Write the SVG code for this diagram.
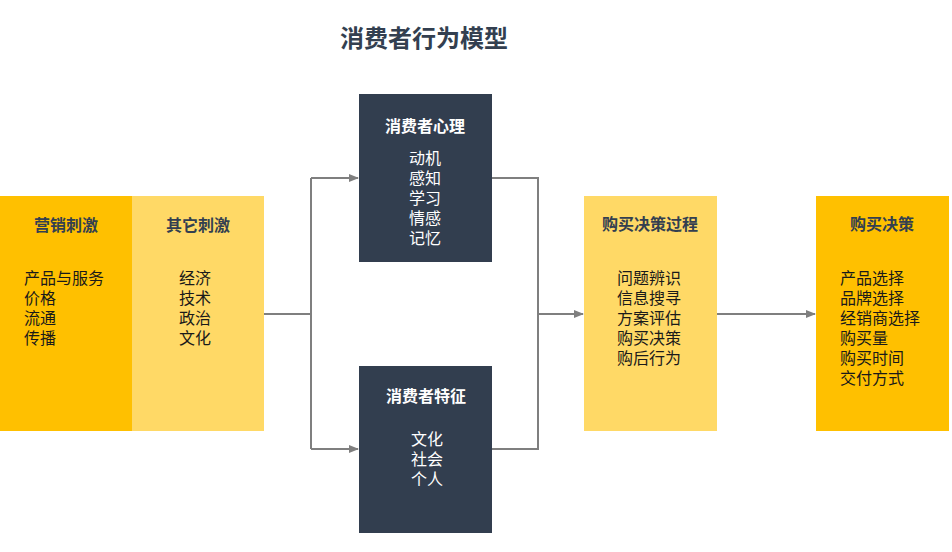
<svg xmlns="http://www.w3.org/2000/svg" width="952" height="552" viewBox="0 0 952 552">
<style>
text{font-family:"Noto Sans CJK SC","Liberation Sans",sans-serif;dominant-baseline:central}
.title{font-size:24px;font-weight:bold;fill:#333F50;text-anchor:middle}
.h{font-size:16px;font-weight:bold;fill:#333F50;text-anchor:middle}
.hw{font-size:16px;font-weight:bold;fill:#FFFFFF;text-anchor:middle}
.t{font-size:16px;fill:#1A1A1A}
.tw{font-size:16px;fill:#FFFFFF;text-anchor:middle}
.c{fill:none;stroke:#7F7F7F;stroke-width:2}
</style>
<defs>
<marker id="ah" markerWidth="10" markerHeight="8" refX="9" refY="4" orient="auto" markerUnits="userSpaceOnUse">
<path d="M0,0 L10,4 L0,8 Z" fill="#7F7F7F"/>
</marker>
</defs>
<rect width="952" height="552" fill="#FFFFFF"/>
<text class="title" x="424" y="36">消费者行为模型</text>
<g id="connectors">
<path class="c" d="M264,314 H311"/>
<path class="c" d="M311,178 V449"/>
<path class="c" d="M311,178 H358" marker-end="url(#ah)"/>
<path class="c" d="M311,449 H358" marker-end="url(#ah)"/>
<path class="c" d="M492,178 H538 V449 H492"/>
<path class="c" d="M538,314 H583" marker-end="url(#ah)"/>
<path class="c" d="M717,314 H815" marker-end="url(#ah)"/>
</g>
<g id="marketing">
<rect x="0" y="196" width="132" height="235" fill="#FFC000"/>
<text class="h" x="66" y="224">营销刺激</text>
<text class="t" y="277"><tspan x="24">产品与服务</tspan><tspan x="24" dy="20">价格</tspan><tspan x="24" dy="20">流通</tspan><tspan x="24" dy="20">传播</tspan></text>
</g>
<g id="other">
<rect x="132" y="196" width="132" height="235" fill="#FFD966"/>
<text class="h" x="198" y="224">其它刺激</text>
<text class="t" y="277"><tspan x="179">经济</tspan><tspan x="179" dy="20">技术</tspan><tspan x="179" dy="20">政治</tspan><tspan x="179" dy="20">文化</tspan></text>
</g>
<g id="psychology">
<rect x="359" y="94" width="133" height="168" fill="#323E4F"/>
<text class="hw" x="425" y="125">消费者心理</text>
<text class="tw" y="157"><tspan x="425">动机</tspan><tspan x="425" dy="20">感知</tspan><tspan x="425" dy="20">学习</tspan><tspan x="425" dy="20">情感</tspan><tspan x="425" dy="20">记忆</tspan></text>
</g>
<g id="traits">
<rect x="359" y="366" width="133" height="167" fill="#323E4F"/>
<text class="hw" x="426" y="395">消费者特征</text>
<text class="tw" y="438"><tspan x="427">文化</tspan><tspan x="427" dy="20">社会</tspan><tspan x="427" dy="20">个人</tspan></text>
</g>
<g id="process">
<rect x="584" y="196" width="133" height="235" fill="#FFD966"/>
<text class="h" x="650" y="223">购买决策过程</text>
<text class="t" y="277"><tspan x="617">问题辨识</tspan><tspan x="617" dy="20">信息搜寻</tspan><tspan x="617" dy="20">方案评估</tspan><tspan x="617" dy="20">购买决策</tspan><tspan x="617" dy="20">购后行为</tspan></text>
</g>
<g id="decision">
<rect x="816" y="196" width="133" height="235" fill="#FFC000"/>
<text class="h" x="882" y="223">购买决策</text>
<text class="t" y="277"><tspan x="840">产品选择</tspan><tspan x="840" dy="20">品牌选择</tspan><tspan x="840" dy="20">经销商选择</tspan><tspan x="840" dy="20">购买量</tspan><tspan x="840" dy="20">购买时间</tspan><tspan x="840" dy="20">交付方式</tspan></text>
</g>
</svg>
